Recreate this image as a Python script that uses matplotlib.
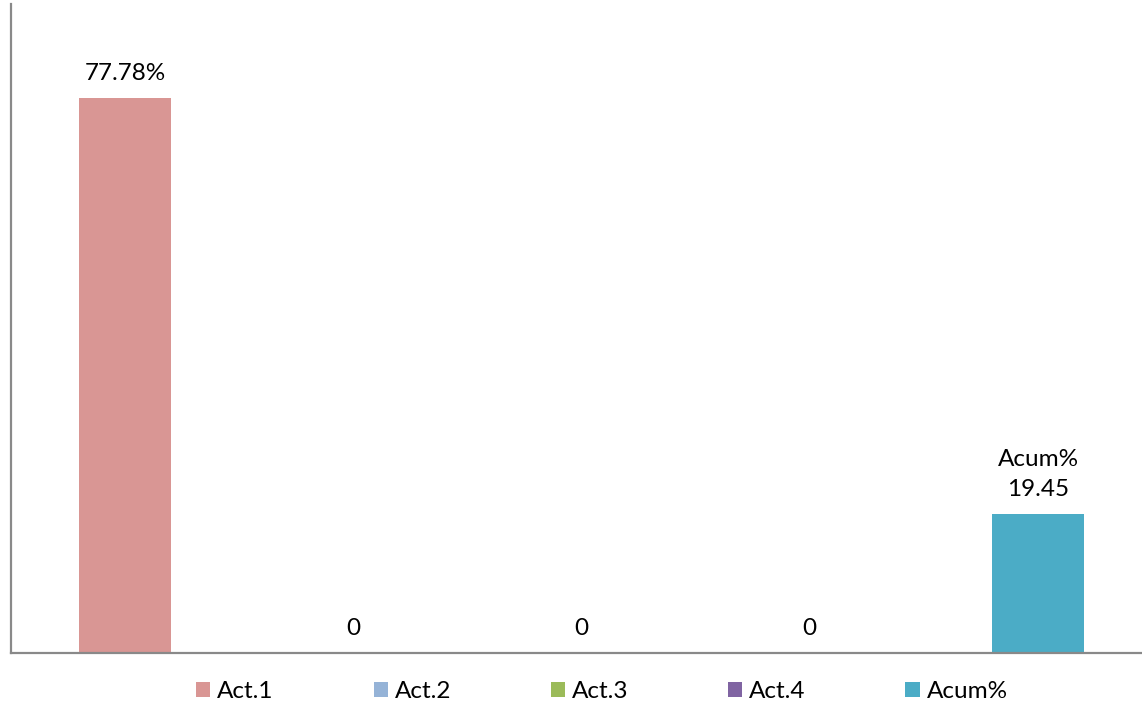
import matplotlib
matplotlib.use("Agg")
import matplotlib.pyplot as plt
from matplotlib.patches import Patch

categories = ["Act.1", "Act.2", "Act.3", "Act.4", "Acum%"]
values = [77.78, 0, 0, 0, 19.45]
labels = ["77.78%", "0", "0", "0", "Acum%\n19.45"]
colors = ["#D99694", "#95B3D7", "#9BBB59", "#8064A2", "#4BACC6"]

plt.rcParams['font.family'] = ['Lato', 'DejaVu Sans']

W, H = 1142, 704
fig = plt.figure(figsize=(W / 100, H / 100), dpi=100)
left_px, right_px, bottom_px, top_px = 10.9, 1142, 653, 4
ax = fig.add_axes([left_px / W, 1 - bottom_px / H, (right_px - left_px) / W, (bottom_px - top_px) / H])

x = list(range(len(categories)))
bars = ax.bar(x, values, width=0.403, color=colors)

ax.set_xlim(-0.5, -0.5 + (right_px - left_px) / 228.25)
ax.set_ylim(0, (bottom_px - top_px) / 7.135)

for xi, v, lab in zip(x, values, labels):
    ax.annotate(lab, (xi, v), xytext=(0, 10), textcoords="offset points",
                ha="center", va="bottom", fontsize=17.5, color="black",
                linespacing=1.52)

for s in ["top", "right"]:
    ax.spines[s].set_visible(False)
for s in ["left", "bottom"]:
    ax.spines[s].set_color("#898989")
    ax.spines[s].set_linewidth(1.6)
ax.set_xticks([])
ax.set_yticks([])

handles = [Patch(facecolor=c, edgecolor="none") for c in colors]
fig.legend(handles, categories, loc="center", bbox_to_anchor=(602 / W, 1 - 692 / H),
           ncol=5, frameon=False, fontsize=17.5, handlelength=0.58, handleheight=0.58,
           handletextpad=0.29, columnspacing=4.1)

fig.savefig("out.png", dpi=100)
